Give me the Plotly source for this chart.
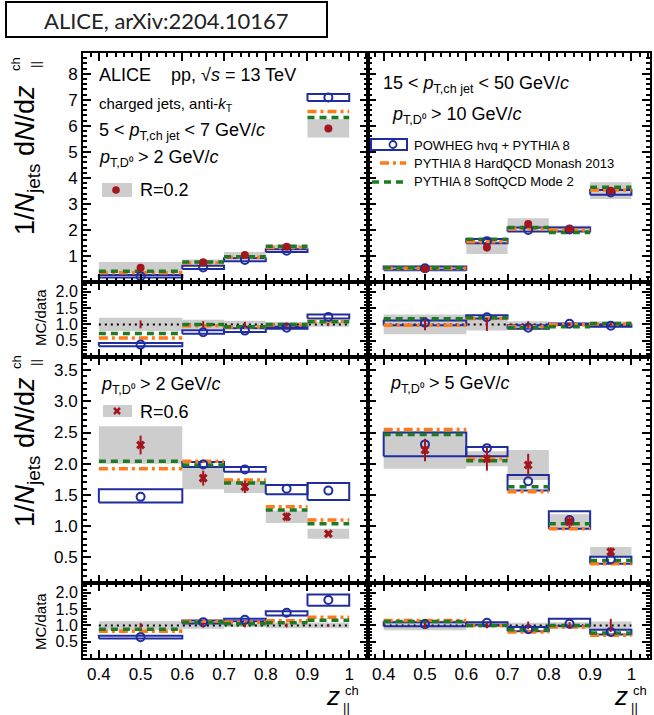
import plotly.graph_objects as go

W, H = 654, 715

# ---------------- data ----------------
z_lo = [0.4, 0.6, 0.7, 0.8, 0.9]
z_hi = [0.6, 0.7, 0.8, 0.9, 1.0]
z_c = [0.5, 0.65, 0.75, 0.85, 0.95]

# Panel A: 5 < pT,ch jet < 7, pT,D0 > 2, R=0.2
A_data = [0.55, 0.76, 1.04, 1.35, 5.90]
A_stat = [0.06, 0.05, 0.05, 0.05, 0.12]
A_sys = [0.22, 0.10, 0.11, 0.08, 0.35]
A_pow = [0.22, 0.56, 0.85, 1.20, 7.09]
A_pow_lo = [0.17, 0.50, 0.80, 1.15, 6.96]
A_pow_hi = [0.27, 0.62, 0.91, 1.26, 7.22]
A_mon = [0.36, 0.73, 0.95, 1.33, 6.55]
A_soft = [0.41, 0.77, 0.97, 1.37, 6.32]
A_r_sys = [0.20, 0.14, 0.11, 0.07, 0.07]
A_r_stat = [0.12, 0.10, 0.08, 0.06, 0.04]
A_r_pow = [0.38, 0.76, 0.81, 0.90, 1.23]
A_r_pow_lo = [0.33, 0.71, 0.77, 0.87, 1.18]
A_r_pow_hi = [0.43, 0.82, 0.88, 0.93, 1.30]
A_r_mon = [0.58, 0.96, 0.92, 0.98, 1.10]
A_r_soft = [0.72, 1.00, 0.93, 1.00, 1.08]

# Panel B: 15 < pT,ch jet < 50, pT,D0 > 10, R=0.2
B_data = [0.50, 1.33, 2.23, 2.04, 3.51]
B_stat = [0.05, 0.15, 0.12, 0.08, 0.12]
B_sys = [0.12, 0.25, 0.22, 0.12, 0.32]
B_pow = [0.53, 1.57, 2.00, 2.02, 3.44]
B_pow_lo = [0.47, 1.49, 1.94, 1.94, 3.35]
B_pow_hi = [0.60, 1.65, 2.09, 2.09, 3.54]
B_mon = [0.53, 1.55, 2.04, 2.00, 3.54]
B_soft = [0.55, 1.64, 2.09, 1.90, 3.64]
B_r_sys = [0.30, 0.19, 0.10, 0.06, 0.09]
B_r_stat = [0.18, 0.20, 0.10, 0.05, 0.04]
B_r_pow = [1.05, 1.22, 0.90, 1.02, 0.96]
B_r_pow_lo = [0.97, 1.18, 0.87, 0.98, 0.93]
B_r_pow_hi = [1.12, 1.28, 0.97, 1.03, 0.99]
B_r_mon = [0.97, 1.18, 0.93, 0.99, 1.01]
B_r_soft = [1.17, 1.20, 0.90, 0.93, 1.03]

# Panel C: 5 < pT,ch jet < 7, pT,D0 > 2, R=0.6
C_data = [2.30, 1.77, 1.63, 1.15, 0.88]
C_stat = [0.15, 0.12, 0.10, 0.07, 0.03]
C_sys = [0.30, 0.18, 0.10, 0.10, 0.08]
C_pow = [1.47, 1.99, 1.91, 1.60, 1.57]
C_pow_lo = [1.38, 1.95, 1.87, 1.51, 1.42]
C_pow_hi = [1.59, 2.03, 1.95, 1.66, 1.69]
C_mon = [1.92, 2.04, 1.74, 1.31, 1.10]
C_soft = [2.04, 1.98, 1.69, 1.26, 1.04]
C_r_sys = [0.13, 0.10, 0.06, 0.09, 0.09]
C_r_stat = [0.07, 0.07, 0.06, 0.06, 0.04]
C_r_pow = [0.64, 1.10, 1.17, 1.39, 1.78]
C_r_pow_lo = [0.60, 1.06, 1.13, 1.30, 1.60]
C_r_pow_hi = [0.68, 1.15, 1.20, 1.43, 1.95]
C_r_mon = [0.82, 1.13, 1.10, 1.14, 1.25]
C_r_soft = [0.88, 1.10, 1.05, 1.08, 1.16]

# Panel D: 15 < pT,ch jet < 50, pT,D0 > 5, R=0.6
D_data = [2.22, 2.08, 1.98, 1.07, 0.59]
D_stat = [0.18, 0.19, 0.18, 0.10, 0.07]
D_sys = [0.30, 0.12, 0.24, 0.12, 0.075]
D_pow = [2.31, 2.25, 1.72, 1.10, 0.47]
D_pow_lo = [2.12, 2.12, 1.57, 0.96, 0.40]
D_pow_hi = [2.50, 2.27, 1.82, 1.24, 0.51]
D_mon = [2.55, 2.08, 1.55, 0.96, 0.40]
D_soft = [2.47, 2.05, 1.63, 1.04, 0.45]
D_r_sys = [0.15, 0.06, 0.08, 0.10, 0.12]
D_r_stat = [0.09, 0.09, 0.12, 0.10, 0.20]
D_r_pow = [1.04, 1.08, 0.88, 1.05, 0.80]
D_r_pow_lo = [0.97, 1.02, 0.82, 0.98, 0.72]
D_r_pow_hi = [1.10, 1.10, 0.95, 1.20, 0.87]
D_r_mon = [1.15, 1.00, 0.80, 0.95, 0.70]
D_r_soft = [1.12, 1.00, 0.87, 1.00, 0.77]

ratio_ref = [1.0, 1.0, 1.0, 1.0, 1.0]

x_tickvals = [0.4, 0.5, 0.6, 0.7, 0.8, 0.9, 1.0]
x_ticktext = ["0.4", "0.5", "0.6", "0.7", "0.8", "0.9", "1"]
top_tickvals = [1, 2, 3, 4, 5, 6, 7, 8]
bot_tickvals = [0.5, 1.0, 1.5, 2.0, 2.5, 3.0, 3.5]
ratio_tickvals = [0.5, 1.0, 1.5, 2.0]

# ---------------- style ----------------
RED = "#a3161d"
BLUE = "#1f2d9e"
ORANGE = "#ff7a1a"
GREEN = "#1f7a24"
GREY = "#cdcdcd"
FONT = "Liberation Sans"
DASH_SOFT = "7px,5px"
DASH_MON = "9px,4px,3px,4px"

fig = go.Figure()


def rects(x0s, x1s, y0s, y1s):
    xs, ys = [], []
    for a, b, c, d in zip(x0s, x1s, y0s, y1s):
        xs += [a, b, b, a, a, None]
        ys += [c, c, d, d, c, None]
    return xs, ys


def hlines(x0s, x1s, vals):
    xs, ys = [], []
    for a, b, v in zip(x0s, x1s, vals):
        xs += [a, b, None]
        ys += [v, v, None]
    return xs, ys


def add(tr, k):
    tr.update(xaxis=f"x{k}", yaxis=f"y{k}", hoverinfo="skip", showlegend=False)
    fig.add_trace(tr)


def main_panel(k, data, stat, sys, pw, lo, hi, mon, soft, symbol, msize):
    xs, ys = rects(z_lo, z_hi, [d - s for d, s in zip(data, sys)], [d + s for d, s in zip(data, sys)])
    add(go.Scatter(x=xs, y=ys, mode="lines", fill="toself", fillcolor=GREY, line=dict(width=0)), k)
    xs, ys = rects(z_lo, z_hi, lo, hi)
    add(go.Scatter(x=xs, y=ys, mode="lines", line=dict(color=BLUE, width=2)), k)
    xs, ys = hlines(z_lo, z_hi, mon)
    add(go.Scatter(x=xs, y=ys, mode="lines", line=dict(color=ORANGE, width=3.5, dash=DASH_MON)), k)
    xs, ys = hlines(z_lo, z_hi, soft)
    add(go.Scatter(x=xs, y=ys, mode="lines", line=dict(color=GREEN, width=3.5, dash=DASH_SOFT)), k)
    add(go.Scatter(x=z_c, y=pw, mode="markers",
                   marker=dict(symbol="circle-open", size=8, color=BLUE, line=dict(width=2, color=BLUE))), k)
    add(go.Scatter(x=z_c, y=data, mode="markers",
                   marker=dict(symbol=symbol, size=msize, color=RED, line=dict(width=0)),
                   error_y=dict(type="data", array=stat, color=RED, thickness=2, width=0)), k)


def ratio_panel(k, rsys, rstat, rpw, rlo, rhi, rmon, rsoft):
    xs, ys = rects(z_lo, z_hi, [r - s for r, s in zip(ratio_ref, rsys)], [r + s for r, s in zip(ratio_ref, rsys)])
    add(go.Scatter(x=xs, y=ys, mode="lines", fill="toself", fillcolor=GREY, line=dict(width=0)), k)
    add(go.Scatter(x=[z_lo[0], z_hi[-1]], y=[ratio_ref[0], ratio_ref[-1]], mode="lines",
                   line=dict(color="black", width=2, dash="2px,4px")), k)
    xs, ys = rects(z_lo, z_hi, rlo, rhi)
    add(go.Scatter(x=xs, y=ys, mode="lines", line=dict(color=BLUE, width=2)), k)
    xs, ys = hlines(z_lo, z_hi, rmon)
    add(go.Scatter(x=xs, y=ys, mode="lines", line=dict(color=ORANGE, width=3.5, dash=DASH_MON)), k)
    xs, ys = hlines(z_lo, z_hi, rsoft)
    add(go.Scatter(x=xs, y=ys, mode="lines", line=dict(color=GREEN, width=3.5, dash=DASH_SOFT)), k)
    add(go.Scatter(x=z_c, y=rpw, mode="markers",
                   marker=dict(symbol="circle-open", size=8, color=BLUE, line=dict(width=2, color=BLUE))), k)
    add(go.Scatter(x=z_c, y=ratio_ref, mode="markers", marker=dict(size=1, color=RED),
                   error_y=dict(type="data", array=rstat, color=RED, thickness=2, width=0)), k)


# subplot index: row r (0..3), col c (0..1) -> k = 2r + c + 1
main_panel(1, A_data, A_stat, A_sys, A_pow, A_pow_lo, A_pow_hi, A_mon, A_soft, "circle", 8)
main_panel(2, B_data, B_stat, B_sys, B_pow, B_pow_lo, B_pow_hi, B_mon, B_soft, "circle", 8)
ratio_panel(3, A_r_sys, A_r_stat, A_r_pow, A_r_pow_lo, A_r_pow_hi, A_r_mon, A_r_soft)
ratio_panel(4, B_r_sys, B_r_stat, B_r_pow, B_r_pow_lo, B_r_pow_hi, B_r_mon, B_r_soft)
main_panel(5, C_data, C_stat, C_sys, C_pow, C_pow_lo, C_pow_hi, C_mon, C_soft, "x", 8)
main_panel(6, D_data, D_stat, D_sys, D_pow, D_pow_lo, D_pow_hi, D_mon, D_soft, "x", 8)
ratio_panel(7, C_r_sys, C_r_stat, C_r_pow, C_r_pow_lo, C_r_pow_hi, C_r_mon, C_r_soft)
ratio_panel(8, D_r_sys, D_r_stat, D_r_pow, D_r_pow_lo, D_r_pow_hi, D_r_mon, D_r_soft)

# ---------------- axes ----------------
col_px = [(83, 368), (368, 650)]
row_px = [(53, 282), (282, 357), (357, 583), (583, 658)]
yranges = [[0, 8.8], [0, 2.3], [0.09, 3.71], [0, 2.3]]
ytv = [top_tickvals, ratio_tickvals, bot_tickvals, ratio_tickvals]
ytt = [[str(v) for v in top_tickvals], [f"{v:.1f}" for v in ratio_tickvals],
       [f"{v:.1f}" for v in bot_tickvals], [f"{v:.1f}" for v in ratio_tickvals]]
yminor = [0.2, 0.1, 0.1, 0.1]
yfont = [17, 16, 17, 16]

layout = dict(width=W, height=H, margin=dict(l=0, r=0, t=0, b=0),
              paper_bgcolor="white", plot_bgcolor="white", showlegend=False)
for r in range(4):
    for c in range(2):
        k = 2 * r + c + 1
        x0, x1 = col_px[c]
        y0, y1 = row_px[r]
        layout[f"xaxis{k}"] = dict(
            domain=[x0 / W, x1 / W], anchor=f"y{k}", range=[0.362, 1.045],
            showline=True, linewidth=2, linecolor="black", mirror="ticks",
            ticks="inside", ticklen=8, tickwidth=2, tickcolor="black",
            tickmode="array", tickvals=x_tickvals, ticktext=x_ticktext,
            showticklabels=(r == 3), tickfont=dict(family=FONT, size=17, color="black"),
            showgrid=False, zeroline=False,
            minor=dict(ticks="inside", ticklen=4, tickwidth=1.5, tickcolor="black",
                       tickmode="linear", tick0=0.4, dtick=0.02, showgrid=False),
        )
        layout[f"yaxis{k}"] = dict(
            domain=[1 - y1 / H, 1 - y0 / H], anchor=f"x{k}", range=yranges[r],
            showline=True, linewidth=2, linecolor="black", mirror="ticks",
            ticks="inside", ticklen=8, tickwidth=2, tickcolor="black",
            tickmode="array", tickvals=ytv[r], ticktext=ytt[r],
            showticklabels=(c == 0), tickfont=dict(family=FONT, size=yfont[r], color="black"),
            showgrid=False, zeroline=False,
            minor=dict(ticks="inside", ticklen=4, tickwidth=1.5, tickcolor="black",
                       tickmode="linear", tick0=0, dtick=yminor[r], showgrid=False),
        )

# ---------------- text ----------------
annos = []


def T(text, x, y, size, xanchor="left", yanchor="middle", angle=0, family=FONT, color="black"):
    annos.append(dict(text=text, x=x / W, y=1 - y / H, xref="paper", yref="paper",
                      xanchor=xanchor, yanchor=yanchor, showarrow=False, textangle=angle,
                      font=dict(size=size, color=color, family=family)))


T("ALICE, arXiv:2204.10167", 166, 20, 22, xanchor="center", family="Lato", color="#222222")

T("ALICE", 97, 75, 18)
T("pp, √<i>s</i> = 13 TeV", 169, 75, 18)
T("charged jets, anti-<i>k</i><sub>T</sub>", 97, 104, 15)
T("5 < <i>p</i><sub>T,ch jet</sub> < 7 GeV/<i>c</i>", 97, 131, 18)
T("<i>p</i><sub>T,D⁰</sub> > 2 GeV/<i>c</i>", 97, 158, 18)
T("R=0.2", 138, 190, 18)

T("15 < <i>p</i><sub>T,ch jet</sub> < 50 GeV/<i>c</i>", 381, 84, 18)
T("<i>p</i><sub>T,D⁰</sub> > 10 GeV/<i>c</i>", 390, 115, 18)
T("POWHEG hvq + PYTHIA 8", 412, 145, 13)
T("PYTHIA 8 HardQCD Monash 2013", 412, 163, 13)
T("PYTHIA 8 SoftQCD Mode 2", 412, 182, 13)

T("<i>p</i><sub>T,D⁰</sub> > 2 GeV/<i>c</i>", 99, 385, 18)
T("R=0.6", 138, 412, 18)
T("<i>p</i><sub>T,D⁰</sub> > 5 GeV/<i>c</i>", 388, 384, 18)

# y titles
for yc, ysup in [(160, 64), (452, 362)]:
    T("1/<i>N</i><sub>jets</sub> d<i>N</i>/d<i>z</i>", 27, yc, 27, xanchor="center", angle=-90)
    T("ch", 16, ysup, 13, xanchor="center", angle=-90)
    T("||", 35, ysup + 1, 13, xanchor="center", angle=-90)
T("MC/data", 40, 318, 15, xanchor="center", angle=-90)
T("MC/data", 40, 622, 15, xanchor="center", angle=-90)

# x titles
for xz in [333, 621]:
    T("<i>z</i>", xz, 696, 26, xanchor="center")
    T("ch", xz + 10, 690, 13)
    T("||", xz + 8, 707, 13)

layout["annotations"] = annos

# ---------------- shapes (frame box + in-panel legends) ----------------
shapes = []


def P(x, y):
    return x / W, 1 - y / H


def rect(x0, y0, x1, y1, **kw):
    a, b = P(x0, y1)
    c, d = P(x1, y0)
    shapes.append(dict(type="rect", xref="paper", yref="paper", x0=a, y0=b, x1=c, y1=d, **kw))


def circ(xc, yc, r, **kw):
    a, b = P(xc - r, yc + r)
    c, d = P(xc + r, yc - r)
    shapes.append(dict(type="circle", xref="paper", yref="paper", x0=a, y0=b, x1=c, y1=d, **kw))


def seg(x0, y0, x1, y1, **kw):
    a, b = P(x0, y0)
    c, d = P(x1, y1)
    shapes.append(dict(type="line", xref="paper", yref="paper", x0=a, y0=b, x1=c, y1=d, **kw))


rect(6, 2, 327, 37, line=dict(color="black", width=2), fillcolor="rgba(0,0,0,0)")

rect(102, 183, 132, 197, line=dict(width=0), fillcolor=GREY)
circ(116, 190, 3.8, line=dict(width=0), fillcolor=RED)

rect(371, 139, 407, 150, line=dict(color=BLUE, width=2), fillcolor="rgba(0,0,0,0)")
circ(393, 144.5, 3.5, line=dict(color=BLUE, width=1.8), fillcolor="rgba(0,0,0,0)")
seg(380, 163, 406, 163, line=dict(color=ORANGE, width=3.5, dash=DASH_MON))
seg(372, 182, 408, 182, line=dict(color=GREEN, width=3.5, dash=DASH_SOFT))

rect(103, 405, 132, 417, line=dict(width=0), fillcolor=GREY)
seg(114, 408, 120, 414, line=dict(color=RED, width=2.5))
seg(114, 414, 120, 408, line=dict(color=RED, width=2.5))

layout["shapes"] = shapes

fig.update_layout(**layout)
fig.write_html("out.html")
